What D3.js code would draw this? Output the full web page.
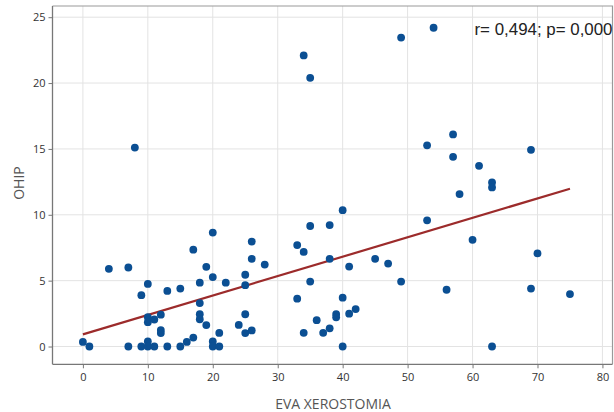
<!DOCTYPE html>
<html>
<head>
<meta charset="utf-8">
<script src="https://cdn.jsdelivr.net/npm/d3@7"></script>
<style>
  html, body { margin: 0; padding: 0; background: #fff; }
  svg { display: block; }
</style>
</head>
<body>
<svg id="chart" width="614" height="412"></svg>
<script>
// ---- Data ----
const evaX = [0, 1, 4, 7, 7, 8, 9, 9, 10, 10, 10, 10, 10, 11, 11, 12, 12, 12, 13, 13,
  15, 15, 16, 17, 17, 18, 18, 18, 18, 19, 19, 20, 20, 20, 20, 21, 21, 22, 24, 25,
  25, 25, 25, 26, 26, 26, 28, 33, 34, 35, 38, 38, 41, 45, 47, 49, 35, 33, 40, 36,
  39, 39, 41, 42, 34, 37, 38, 40, 40, 34, 35, 49, 54, 57, 53, 57, 69, 61, 63, 63,
  58, 53, 60, 70, 56, 69, 75, 63];
const ohipY = [0.35, 0, 5.9, 6.0, 0, 15.1, 3.9, 0, 4.75, 2.22, 1.85, 0.38, 0, 2.05, 0, 2.42, 1.25, 1.02, 4.22, 0,
  4.4, 0, 0.35, 0.68, 7.35, 4.85, 3.3, 2.45, 2.07, 6.05, 1.63, 8.65, 5.27, 0.38, 0, 1.03, 0, 4.85, 1.64, 5.45,
  4.66, 2.45, 1.02, 1.22, 7.97, 6.66, 6.22, 7.7, 7.18, 9.15, 9.22, 6.66, 6.07, 6.66, 6.3, 4.93, 4.93, 3.63, 3.71, 2.0,
  2.46, 2.22, 2.49, 2.84, 1.04, 1.04, 1.38, 0, 10.35, 22.1, 20.4, 23.45, 24.2, 16.1, 15.27, 14.4, 14.93, 13.72, 12.45, 12.08,
  11.57, 9.58, 8.1, 7.07, 4.31, 4.4, 3.98, 0];
const fitX = [0, 75];
const fitY = [0.92, 11.98];
const xTicks = [0, 10, 20, 30, 40, 50, 60, 70, 80];
const yTicks = [0, 5, 10, 15, 20, 25];
const xTitle = "EVA XEROSTOMIA";
const yTitle = "OHIP";
const statText = "r= 0,494; p= 0,000";

// ---- Layout ----
const svg = d3.select("#chart");
const L = 52.5, R = 612.5, T = 6, B = 364.3;
const x = d3.scaleLinear().domain([-4.68, 81.55]).range([L, R]);
const y = d3.scaleLinear().domain([-1.35, 25.85]).range([B, T]);

const plot = svg.append("g");

// gridlines
plot.append("g").selectAll("line").data(xTicks).join("line")
  .attr("x1", d => x(d)).attr("x2", d => x(d)).attr("y1", T).attr("y2", B)
  .attr("stroke", "#e3e3e3").attr("stroke-width", 1);
plot.append("g").selectAll("line").data(yTicks).join("line")
  .attr("y1", d => y(d)).attr("y2", d => y(d)).attr("x1", L).attr("x2", R)
  .attr("stroke", "#e3e3e3").attr("stroke-width", 1);

// frame (top/right)
svg.append("path")
  .attr("d", `M${L},${T}H${R}V${B}`)
  .attr("fill", "none").attr("stroke", "#9a9a9a").attr("stroke-width", 1.2);

// axes
const xAxis = svg.append("g").attr("transform", `translate(0,${B})`)
  .call(d3.axisBottom(x).tickValues(xTicks).tickSize(4).tickPadding(5).tickSizeOuter(0));
const yAxis = svg.append("g").attr("transform", `translate(${L},0)`)
  .call(d3.axisLeft(y).tickValues(yTicks).tickSize(4).tickPadding(3).tickSizeOuter(0));
[xAxis, yAxis].forEach(a => {
  a.select(".domain").attr("stroke", "#777").attr("stroke-width", 1.3);
  a.selectAll(".tick line").attr("stroke", "#777");
  a.selectAll(".tick text").attr("fill", "#333")
    .style("font-family", "'Open Sans', 'Noto Sans', sans-serif").style("font-size", "11px");
});
yAxis.select(".domain").attr("d", `M0,${T}V${B}`);
xAxis.select(".domain").attr("d", `M${L},0H${R}`);

// fit line
svg.append("line")
  .attr("x1", x(fitX[0])).attr("y1", y(fitY[0]))
  .attr("x2", x(fitX[1])).attr("y2", y(fitY[1]))
  .attr("stroke", "#9c2b2b").attr("stroke-width", 2.2);

// points
const pts = evaX.map((v, i) => ({ x: v, y: ohipY[i] }));
svg.append("g").selectAll("circle").data(pts).join("circle")
  .attr("cx", d => x(d.x)).attr("cy", d => y(d.y)).attr("r", 3.9)
  .attr("fill", "#0b4f93");

// annotation
svg.append("text")
  .attr("x", 474.5).attr("y", 34.5)
  .attr("textLength", 138).attr("lengthAdjust", "spacingAndGlyphs")
  .style("font-family", "'Liberation Sans', Arial, sans-serif").style("font-size", "17px")
  .attr("fill", "#222").text(statText);

// axis titles
svg.append("text")
  .attr("x", 333).attr("y", 409).attr("text-anchor", "middle")
  .style("font-family", "'Open Sans', 'Noto Sans', sans-serif").style("font-size", "14px")
  .attr("fill", "#555").text(xTitle);
svg.append("text")
  .attr("transform", "translate(24,183) rotate(-90)").attr("text-anchor", "middle")
  .style("font-family", "'Open Sans', 'Noto Sans', sans-serif").style("font-size", "14px")
  .attr("fill", "#555").text(yTitle);
</script>
</body>
</html>
